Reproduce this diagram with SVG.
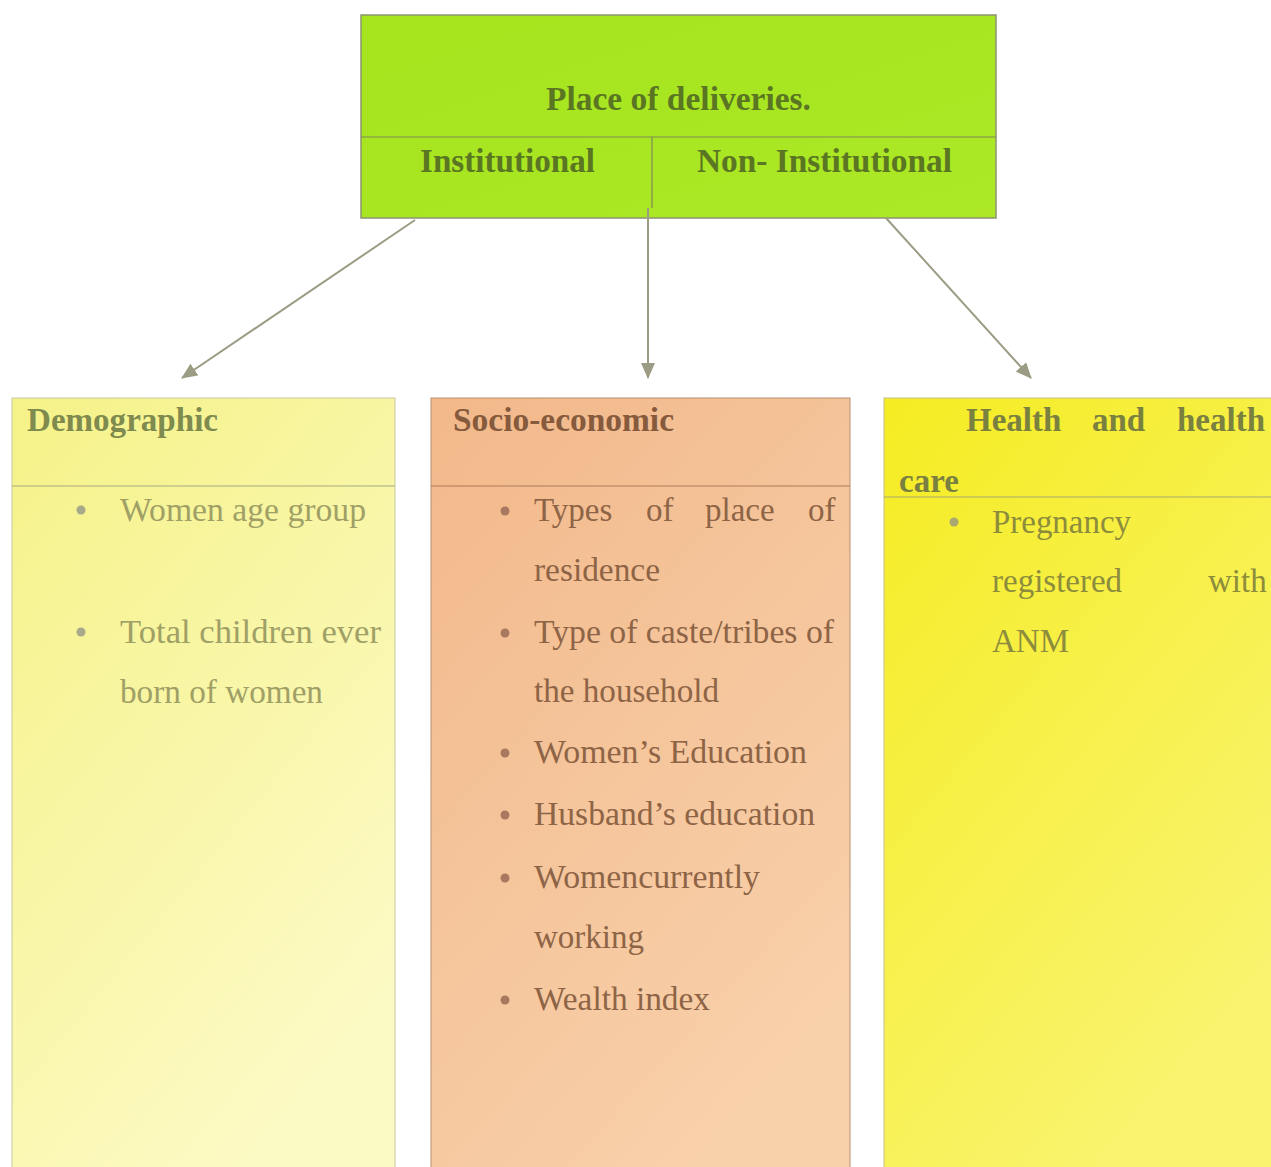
<svg xmlns="http://www.w3.org/2000/svg" width="1271" height="1167" viewBox="0 0 1271 1167">
<defs>
<linearGradient id="gTop" x1="0" y1="0" x2="1" y2="1"><stop offset="0" stop-color="#a6e41e"/><stop offset="1" stop-color="#ace826"/></linearGradient>
<linearGradient id="gL" x1="0" y1="0" x2="0.6" y2="1"><stop offset="0" stop-color="#f5f288"/><stop offset="1" stop-color="#fcfac4"/></linearGradient>
<linearGradient id="gM" x1="0" y1="0" x2="0.6" y2="1"><stop offset="0" stop-color="#f2b88a"/><stop offset="1" stop-color="#f8d0aa"/></linearGradient>
<linearGradient id="gR" x1="0" y1="0" x2="0.6" y2="1"><stop offset="0" stop-color="#f5ec22"/><stop offset="1" stop-color="#f9f470"/></linearGradient>
<marker id="arr" markerWidth="16" markerHeight="14" refX="15" refY="7" orient="auto" markerUnits="userSpaceOnUse"><path d="M0,0 L16,7 L0,14 z" fill="#9c9c84"/></marker>
</defs>
<style>
.t{font-family:"Liberation Serif","Times New Roman",serif;font-size:33px}
.b{font-weight:bold}
.hd{fill:#5a7622}
.lt{fill:#a0a066}
.lh{fill:#7e8a4e}
.mt{fill:#8e6446}
.mh{fill:#865a3c}
.rt{fill:#8c8c3c}
.rh{fill:#7a8040}
.ln{stroke:#9c9c84;stroke-width:2;fill:none}
</style>
<rect width="1271" height="1167" fill="#ffffff"/>
<g id="top">
<rect x="361" y="15" width="635" height="203" fill="url(#gTop)" stroke="#8c9470" stroke-width="1.5"/>
<line x1="361" y1="137" x2="996" y2="137" stroke="#7e8a5a" stroke-width="1.2"/>
<line x1="652" y1="137" x2="652" y2="208" stroke="#7e8a5a" stroke-width="1.2"/>
<text class="t b hd" x="546" y="110" textLength="265" lengthAdjust="spacingAndGlyphs">Place of deliveries.</text>
<text class="t b hd" x="420" y="172" textLength="175" lengthAdjust="spacingAndGlyphs">Institutional</text>
<text class="t b hd" x="697" y="172" textLength="255" lengthAdjust="spacingAndGlyphs">Non- Institutional</text>
</g>
<g id="connectors">
<line class="ln" x1="415" y1="220" x2="182" y2="378" marker-end="url(#arr)"/>
<line class="ln" x1="648" y1="208" x2="648" y2="378" marker-end="url(#arr)"/>
<line class="ln" x1="886" y1="218" x2="1031" y2="378" marker-end="url(#arr)"/>
</g>
<g id="demographic">
<rect x="12" y="398" width="383" height="775" fill="url(#gL)" stroke="#c8c8a0" stroke-width="1"/>
<line x1="12" y1="486" x2="395" y2="486" stroke="#a8a880" stroke-width="1.2"/>
<text class="t b lh" x="27" y="431" textLength="191" lengthAdjust="spacingAndGlyphs">Demographic</text>
<circle cx="81" cy="510" r="4.5" fill="#a8a88a"/>
<text class="t lt" x="120" y="521" textLength="246" lengthAdjust="spacingAndGlyphs">Women age group</text>
<circle cx="81" cy="632" r="4.5" fill="#a8a88a"/>
<text class="t lt" x="120" y="643" textLength="261" lengthAdjust="spacingAndGlyphs">Total children ever</text>
<text class="t lt" x="120" y="703" textLength="203" lengthAdjust="spacingAndGlyphs">born of women</text>
</g>
<g id="socio">
<rect x="431" y="398" width="419" height="775" fill="url(#gM)" stroke="#b89070" stroke-width="1"/>
<line x1="431" y1="486" x2="850" y2="486" stroke="#b07a5a" stroke-width="1.2"/>
<text class="t b mh" x="453" y="431" textLength="221" lengthAdjust="spacingAndGlyphs">Socio-economic</text>
<g fill="#a87860">
<circle cx="505" cy="511" r="4.5"/><circle cx="505" cy="633" r="4.5"/><circle cx="505" cy="753" r="4.5"/><circle cx="505" cy="815" r="4.5"/><circle cx="505" cy="878" r="4.5"/><circle cx="505" cy="1000" r="4.5"/>
</g>
<text class="t mt" y="521"><tspan x="534">Types</tspan><tspan x="646">of</tspan><tspan x="705">place</tspan><tspan x="808">of</tspan></text>
<text class="t mt" x="534" y="581" textLength="126" lengthAdjust="spacingAndGlyphs">residence</text>
<text class="t mt" x="534" y="643" textLength="300" lengthAdjust="spacingAndGlyphs">Type of caste/tribes of</text>
<text class="t mt" x="534" y="702" textLength="185" lengthAdjust="spacingAndGlyphs">the household</text>
<text class="t mt" x="534" y="763" textLength="273" lengthAdjust="spacingAndGlyphs">Women’s Education</text>
<text class="t mt" x="534" y="825" textLength="281" lengthAdjust="spacingAndGlyphs">Husband’s education</text>
<text class="t mt" x="534" y="888" textLength="226" lengthAdjust="spacingAndGlyphs">Womencurrently</text>
<text class="t mt" x="534" y="948" textLength="110" lengthAdjust="spacingAndGlyphs">working</text>
<text class="t mt" x="534" y="1010" textLength="176" lengthAdjust="spacingAndGlyphs">Wealth index</text>
</g>
<g id="health">
<rect x="884" y="398" width="392" height="775" fill="url(#gR)" stroke="#c8c090" stroke-width="1"/>
<line x1="884" y1="497" x2="1271" y2="497" stroke="#a8a870" stroke-width="1.2"/>
<text class="t b rh" y="431"><tspan x="966">Health</tspan><tspan x="1092">and</tspan><tspan x="1177">health</tspan></text>
<text class="t b rh" x="899" y="492">care</text>
<circle cx="954" cy="522" r="4.5" fill="#a8a870"/>
<text class="t rt" x="992" y="533" textLength="139" lengthAdjust="spacingAndGlyphs">Pregnancy</text>
<text class="t rt" y="592"><tspan x="992">registered</tspan><tspan x="1208">with</tspan></text>
<text class="t rt" x="992" y="652" textLength="77" lengthAdjust="spacingAndGlyphs">ANM</text>
</g>
</svg>
